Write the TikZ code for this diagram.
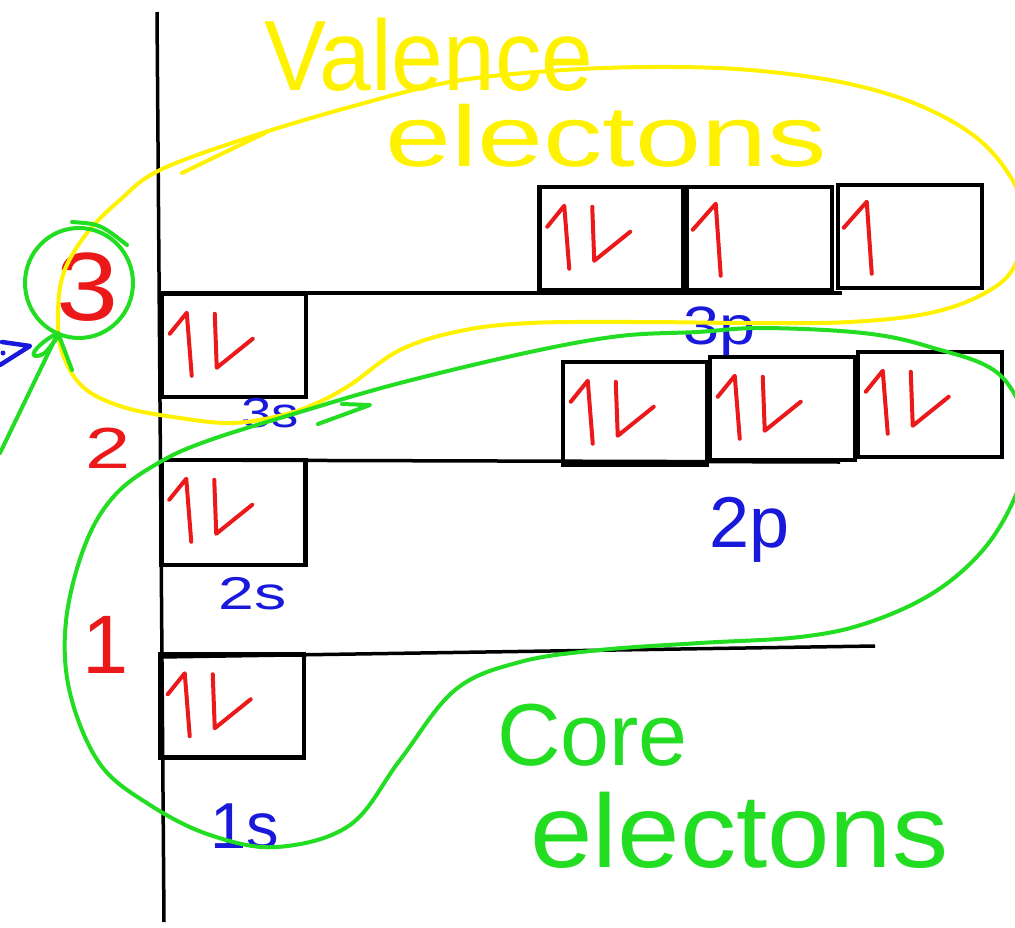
\documentclass[tikz,border=0pt]{standalone}
\usepackage{fontspec}
\setmainfont{Liberation Sans}
\usetikzlibrary{shapes.geometric}
\definecolor{hyel}{RGB}{255,242,0}
\definecolor{hgrn}{RGB}{34,221,34}
\definecolor{hred}{RGB}{235,25,25}
\definecolor{hblu}{RGB}{25,25,220}
\tikzset{
 axisline/.style={line width=3.5pt, black},
 levelline/.style={line width=3.5pt, black},
 orb/.style={draw=black, line width=4.5pt, minimum width=144pt, minimum height=103pt, inner sep=0pt},
 elec/.style={draw=hred, line width=4pt, line cap=round, line join=round},
 ylw/.style={draw=hyel, line width=4pt, line cap=round, line join=round},
 grn/.style={draw=hgrn, line width=4pt, line cap=round, line join=round},
 blu/.style={draw=hblu, line width=4.5pt, line cap=round, line join=round},
 lvl/.style={text=hred, anchor=base, inner sep=0pt},
 sub/.style={text=hblu, anchor=base, inner sep=0pt},
 yeltext/.style={text=hyel, anchor=base west, inner sep=0pt},
 grntext/.style={text=hgrn, anchor=base west, inner sep=0pt},
 pics/pair/.style={code={\draw[elec] (10,42) -- (27,21) -- (32,84); \draw[elec] (55,22) -- (57,76) -- (93,47);}},
 pics/single/.style={code={\draw[elec] (8,45) -- (31,19) -- (36,91);}},
}
\begin{document}
\begin{tikzpicture}[x=1pt,y=-1pt]
\useasboundingbox (0,0) rectangle (1015,927);
\fill[white] (0,0) rectangle (1015,927);
% axis
\coordinate (axtop) at (157,12);
\coordinate (axbot) at (164,922);
\draw[axisline] (axtop) -- (axbot);
% level lines
\coordinate (l3a) at (160,293); \coordinate (l3b) at (842,293);
\coordinate (l2a) at (160,460); \coordinate (l2b) at (840,462);
\coordinate (l1a) at (160,657); \coordinate (l1b) at (875,646);
\draw[levelline] (l3a) -- (l3b);
\draw[levelline] (l2a) -- (l2b);
\draw[levelline] (l1a) -- (l1b);
% orbital boxes
\node[orb] (s3) at (234,345.5) {};
\node[orb, minimum height=105pt] (s2) at (233.5,512.5) {};
\node[orb] (s1) at (232,706) {};
\node[orb] (p3a) at (611.5,238.5) {};
\node[orb, minimum width=145pt] (p3b) at (759.5,238.5) {};
\node[orb] (p3c) at (910,236.5) {};
\node[orb] (p2a) at (635,413.5) {};
\node[orb, minimum width=145pt] (p2b) at (782.5,408.5) {};
\node[orb, minimum height=105pt] (p2c) at (930,404.5) {};
% electrons
\pic at (s3.north west) {pair};
\pic at (s2.north west) {pair};
\pic at (s1.north west) {pair};
\pic at (p3a.north west) {pair};
\pic at (p3b.north west) {single};
\pic at (p3c.north west) {single};
\pic at (p2a.north west) {pair};
\pic at (p2b.north west) {pair};
\pic at (p2c.north west) {pair};
% level numbers
\node[lvl, font=\fontsize{97}{97}\selectfont, xscale=1.15] (n3) at (88,320) {3};
\node[lvl, font=\fontsize{58}{58}\selectfont, xscale=1.4] (n2) at (108,468) {2};
\node[lvl, font=\fontsize{83}{83}\selectfont] (n1) at (106,673) {1};
% orbital labels
\node[sub, font=\fontsize{42}{42}\selectfont, xscale=1.3] (t3s) at (270,427) {3s};
\node[sub, font=\fontsize{54}{54}\selectfont, xscale=1.2] (t3p) at (720,344) {3p};
\node[sub, font=\fontsize{46}{46}\selectfont, xscale=1.4] (t2s) at (253,609) {2s};
\node[sub, font=\fontsize{72}{72}\selectfont] (t2p) at (750,547) {2p};
\node[sub, font=\fontsize{65}{65}\selectfont] (t1s) at (245,848) {1s};
% titles
\node[yeltext, font=\fontsize{100}{100}\selectfont, xscale=0.93] (val1) at (264,90) {Valence};
\node[yeltext, font=\fontsize{86}{86}\selectfont, xscale=1.38] (val2) at (385,166) {electons};
\node[grntext, font=\fontsize{88}{88}\selectfont] (core1) at (497,765) {Core};
\node[grntext, font=\fontsize{104}{104}\selectfont, xscale=1.08] (core2) at (530,867) {electons};
% blue arrow fragment at left edge
\coordinate (ba1) at (2,342); \coordinate (ba2) at (30,346); \coordinate (ba3) at (0,365);
\draw[blu] (ba1) -- (ba2) -- (ba3);
\fill[hblu] (3,353) circle (2.5);
% yellow valence loop
\draw[ylw] plot[smooth cycle, tension=0.6] coordinates {
 (58,313) (64,272) (87,233) (120,200) (160,170) (250,137) (350,107) (450,82)
 (550,71) (650,67) (750,70) (850,84) (930,110) (990,150) (1025,210) (1015,265)
 (985,293) (930,313) (850,322) (750,323) (640,322) (530,323) (460,331) (400,350)
 (350,385) (317,403) (283,415) (233,423) (180,418) (123,407) (83,387) (62,352)};
\coordinate (yt1) at (182,173); \coordinate (yt2) at (265,133);
\draw[ylw] (yt1) -- (yt2);
% green core loop
\draw[grn] plot[smooth cycle, tension=0.6] coordinates {
 (210,440) (300,412) (400,383) (530,352) (620,336) (697,332) (763,328) (863,333)
 (930,347) (1000,375) (1030,440) (1015,497) (983,550) (933,593) (867,623) (800,637)
 (700,643) (600,650) (520,662) (455,690) (400,760) (350,825) (277,847) (210,835)
 (150,805) (100,764) (70,693) (66,621) (85,545) (115,495) (160,462)};
\coordinate (ga1) at (318,424); \coordinate (ga2) at (370,405); \coordinate (ga3) at (342,404);
\draw[grn] (ga1) -- (ga2) -- (ga3);
% green circle around 3 with arrow
\node[draw=hgrn, line width=4pt, ellipse, minimum width=108pt, minimum height=110pt, inner sep=0pt] (c3) at (79,283) {};
\coordinate (ct1) at (72,222); \coordinate (ct2) at (127,245);
\draw[grn] (ct1) .. controls (100,224) .. (ct2);
\coordinate (gs) at (0,453); \coordinate (gt) at (58,333);
\coordinate (gb1) at (72,370);
\draw[grn] (gs) -- (gt) -- (gb1);
\draw[grn] (gt) .. controls (40,342) and (28,356) .. (36,356) .. controls (44,355) .. (57,338);
\end{tikzpicture}
\end{document}
